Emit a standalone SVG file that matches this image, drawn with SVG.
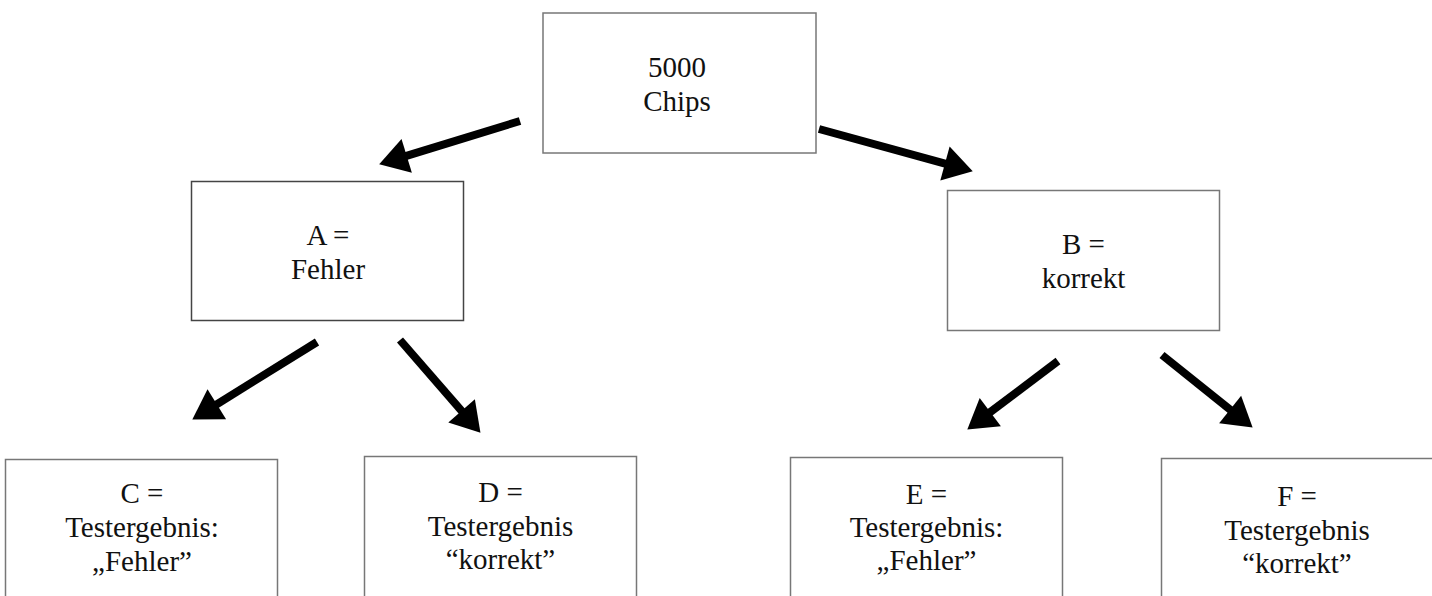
<svg xmlns="http://www.w3.org/2000/svg" width="1432" height="596" viewBox="0 0 1432 596">
<style>
.box{fill:#fff;stroke:#777;stroke-width:1.5}
.dark{stroke:#444}
.t{font-family:"Liberation Serif","Times New Roman",serif;font-size:29px;fill:#111;text-anchor:middle}
.arr{stroke:#000;stroke-width:8;fill:none;marker-end:url(#ah)}
</style>
<defs>
<marker id="ah" markerUnits="strokeWidth" markerWidth="3.6" markerHeight="4.4" refX="0.25" refY="2.2" orient="auto" overflow="visible">
<path d="M0,0 L3.6,2.2 L0,4.4 z" fill="#000"/>
</marker>
</defs>
<rect width="1432" height="596" fill="#fff"/>
<g id="connectors">
<line class="arr" x1="520" y1="121" x2="404.8" y2="156.4"/>
<line class="arr" x1="819" y1="129" x2="946.9" y2="164.1"/>
<line class="arr" x1="317" y1="342" x2="215.1" y2="405.3"/>
<line class="arr" x1="400" y1="340" x2="462.9" y2="412.4"/>
<line class="arr" x1="1058" y1="361" x2="988.7" y2="413.3"/>
<line class="arr" x1="1162" y1="355" x2="1231.7" y2="410.8"/>
</g>
<g id="root">
<rect class="box" x="543" y="13" width="273" height="140"/>
<text class="t" x="677" y="77">5000</text>
<text class="t" x="677" y="111">Chips</text>
</g>
<g id="nodeA">
<rect class="box dark" x="191.5" y="181.5" width="272" height="139"/>
<text class="t" x="328" y="245">A =</text>
<text class="t" x="328" y="279">Fehler</text>
</g>
<g id="nodeB">
<rect class="box" x="947.5" y="190.5" width="272" height="140"/>
<text class="t" x="1083.5" y="254">B =</text>
<text class="t" x="1083.5" y="288">korrekt</text>
</g>
<g id="nodeC">
<rect class="box" x="5.5" y="459.5" width="272" height="150"/>
<text class="t" x="142" y="503">C =</text>
<text class="t" x="142" y="537">Testergebnis:</text>
<text class="t" x="142" y="571">„Fehler”</text>
</g>
<g id="nodeD">
<rect class="box" x="364.5" y="456.5" width="272" height="150"/>
<text class="t" x="500.5" y="502">D =</text>
<text class="t" x="500.5" y="536">Testergebnis</text>
<text class="t" x="500.5" y="569">“korrekt”</text>
</g>
<g id="nodeE">
<rect class="box" x="790.5" y="457.5" width="272" height="150"/>
<text class="t" x="926.5" y="504">E =</text>
<text class="t" x="926.5" y="537">Testergebnis:</text>
<text class="t" x="926.5" y="570">„Fehler”</text>
</g>
<g id="nodeF">
<rect class="box" x="1161.5" y="458.5" width="272" height="150"/>
<text class="t" x="1297" y="506">F =</text>
<text class="t" x="1297" y="540">Testergebnis</text>
<text class="t" x="1297" y="573">“korrekt”</text>
</g>
</svg>
